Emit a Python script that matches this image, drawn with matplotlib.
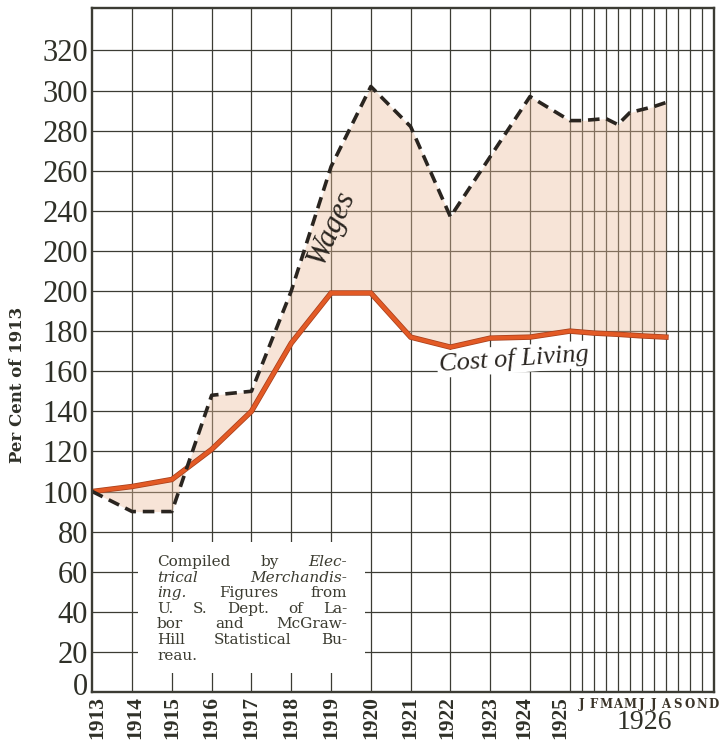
import numpy as np
import matplotlib
matplotlib.use("Agg")
import matplotlib.pyplot as plt
import matplotlib.patheffects as pe
import matplotlib.transforms as mtransforms
from matplotlib.patches import Rectangle
from matplotlib.transforms import IdentityTransform

# index numbers, 1913 = 100
years = [1913, 1914, 1915, 1916, 1917, 1918, 1919, 1920, 1921, 1922, 1923, 1924, 1925]
wages_yearly = [100, 90, 90, 148, 150, 200, 262, 302, 282, 237, 267, 297, 285]
cost_yearly = [100, 102.5, 106, 121, 140, 174, 199, 199, 177, 172, 176.5, 177, 180]

# 1926 by month (January - August reported)
months = ["J", "F", "M", "A", "M", "J", "J", "A", "S", "O", "N", "D"]
wages_1926 = [285, 285.5, 286, 283, 289, 290.5, 292, 294]
cost_1926 = [179.5, 179, 178.7, 178.4, 178, 177.6, 177.3, 177]

ytick_values = list(range(0, 321, 20))
ytick_labels = ["0", "20", "40", "60", "80", "100", "120", "140", "160", "180",
                "200", "200", "240", "260", "280", "300", "320"]

INK = "#2f3028"
GRID = "#3c3c34"
MONTH_STEP = 0.302  # width of one month column, in year units

year_x = np.arange(len(years), dtype=float)
month_x = year_x[-1] + MONTH_STEP * np.arange(1, 13)

x_all = np.concatenate([year_x, month_x[:len(wages_1926)]])
wages = np.array(wages_yearly + wages_1926)
cost = np.array(cost_yearly + cost_1926)

fig = plt.figure(figsize=(7.19, 7.40), dpi=100)
fig.patch.set_facecolor("white")
ax = fig.add_axes([92.3 / 719, 1 - 692 / 740, (714 - 92.3) / 719, (692 - 8.3) / 740])
ax.set_xlim(0, month_x[-1])
ax.set_ylim(0, 341)

# ruled paper
for y in ytick_values[1:]:
    ax.axhline(y, color=GRID, lw=0.9, zorder=1)
for x in list(year_x[1:]) + list(month_x[:-1]):
    ax.axvline(x, color=GRID, lw=0.9, zorder=1)
for s in ax.spines.values():
    s.set_linewidth(1.7)
    s.set_color(GRID)
    s.set_zorder(8)

# shaded gap between wages and cost of living
ax.fill_between(x_all, wages, cost, color="#ebbd9b", alpha=0.4, lw=0, zorder=2)

ax.plot(x_all, cost, color="#e35a25", lw=2.8, solid_joinstyle="miter", zorder=5,
        path_effects=[pe.Stroke(linewidth=3.9, foreground="#a8401c"), pe.Normal()])
ax.plot(x_all, wages, color="#2a2520", lw=2.6, dashes=(3.2, 1.9), zorder=6)

ax.set_yticks(ytick_values)
ax.set_yticklabels(ytick_labels, family="Liberation Serif", fontsize=22, color=INK)
ax.set_xticks(year_x)
ax.set_xticklabels([str(y) for y in years], rotation=90, family="Liberation Serif",
                   fontweight="bold", fontsize=15.5, color=INK)
ax.tick_params(axis="both", length=0)
ax.tick_params(axis="y", pad=3)
ax.tick_params(axis="x", pad=3)


def nudge(label, dx_px, dy_px):
    shift = mtransforms.ScaledTranslation(dx_px / 100, dy_px / 100, fig.dpi_scale_trans)
    label.set_transform(label.get_transform() + shift)


# hand-lettered labels sit a little off their rules
nudge(ax.get_yticklabels()[0], 0, 8)
xlabels = ax.get_xticklabels()
nudge(xlabels[0], 5, 0)
nudge(xlabels[1], 3, 0)
nudge(xlabels[9], -3, 0)
nudge(xlabels[11], -6, 0)
nudge(xlabels[12], -10, 0)

for xm, m in zip(month_x, months):
    ax.text(xm, -3, m, ha="center", va="top", family="DejaVu Serif",
            fontweight="bold", fontsize=8.5, color="#3a3328")
ax.text((year_x[-1] + month_x[-1]) / 2 + 0.05, -15, "1926", ha="center", va="center",
        family="Liberation Serif", fontsize=20, color=INK)

fig.text(18 / 719, 1 - 385 / 740, "Per Cent of 1913", rotation=90, ha="center",
         va="center", family="DejaVu Serif", fontweight="bold", fontsize=12, color=INK)

ax.text(6.02, 232, "Wages", rotation=66, ha="center", va="center",
        family="Liberation Serif", style="italic", fontsize=22, color="#2a2520", zorder=7)
ax.text(10.6, 166, "Cost of Living", rotation=4, ha="center", va="center",
        family="Liberation Serif", style="italic", fontsize=19, color="#2a2520", zorder=7,
        bbox=dict(boxstyle="square,pad=0.08", fc="white", ec="none"))

# credit note on a blank patch of the grid
ax.add_patch(Rectangle((1.15, 9.5), 5.7, 65.3, fc="white", ec="none", zorder=3))

note_lines = [
    [("Compiled", "normal"), ("by", "normal"), ("Elec-", "italic")],
    [("trical", "italic"), ("Merchandis-", "italic")],
    [("ing.", "italic"), ("Figures", "normal"), ("from", "normal")],
    [("U.", "normal"), ("S.", "normal"), ("Dept.", "normal"), ("of", "normal"), ("La-", "normal")],
    [("bor", "normal"), ("and", "normal"), ("McGraw-", "normal")],
    [("Hill", "normal"), ("Statistical", "normal"), ("Bu-", "normal")],
    [("reau.", "normal")],
]

renderer = fig.canvas.get_renderer()
left_px, right_px = 157, 347
top_px, line_h = 562, 15.6
for i, line in enumerate(note_lines):
    y_disp = 740 - (top_px + i * line_h)
    texts = [fig.text(0, y_disp, w, transform=IdentityTransform(), ha="left",
                      va="center", family="DejaVu Serif", style=st, fontsize=11,
                      color="#3b3b30", zorder=9)
             for w, st in line]
    widths = [t.get_window_extent(renderer).width for t in texts]
    if len(texts) > 1 and i < len(note_lines) - 1:
        gap = (right_px - left_px - sum(widths)) / (len(texts) - 1)
    else:
        gap = 6
    x = left_px
    for t, w in zip(texts, widths):
        t.set_x(x)
        x += w + gap

fig.savefig("out.png", dpi=100)
